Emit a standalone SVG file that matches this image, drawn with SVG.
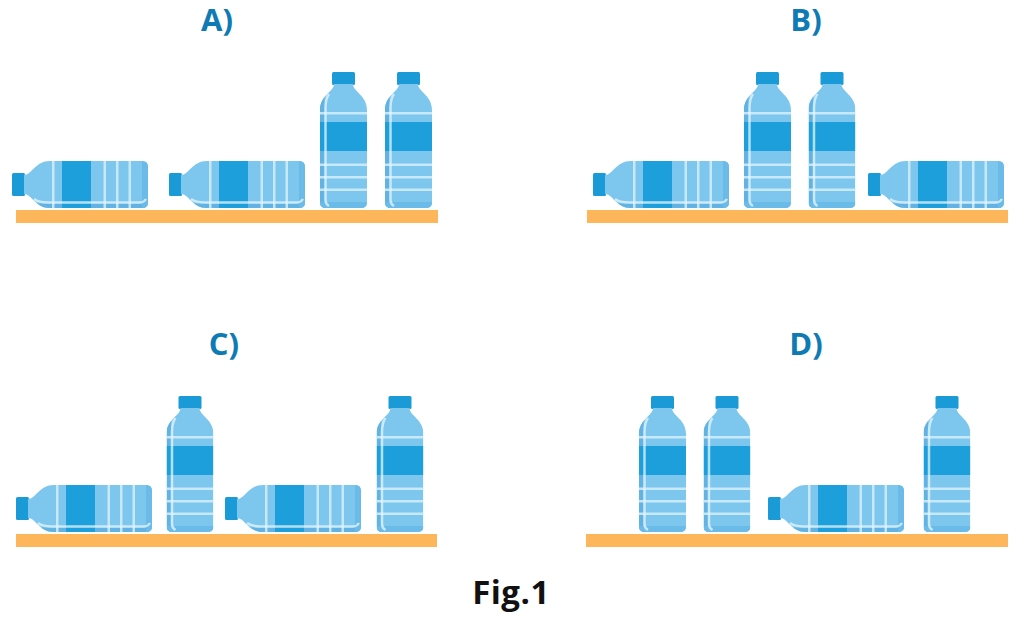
<svg xmlns="http://www.w3.org/2000/svg" xmlns:xlink="http://www.w3.org/1999/xlink" width="1024" height="631" viewBox="0 0 1024 631">
<style>
.lbl{font-family:"Open Sans","Liberation Sans",sans-serif;font-weight:700;font-size:31px;fill:#0F7BB4;text-anchor:middle}
.fig{font-family:"Open Sans","Liberation Sans",sans-serif;font-weight:700;font-size:33px;fill:#111;text-anchor:middle;letter-spacing:0.5px}
.shelf{fill:#FDB75A}
</style>
<defs>
<clipPath id="bodyClip">
<path d="M14,12 L33,12 C33,20 47,23 47,38 L47,130 Q47,136 41,136 L6,136 Q0,136 0,130 L0,38 C0,23 14,20 14,12 Z"/>
</clipPath>
<g id="bottle">
<rect x="12" y="0" width="23" height="13" rx="1.5" fill="#1A9BD7"/>
<g clip-path="url(#bodyClip)">
<rect x="0" y="10" width="47" height="126" fill="#7DC6EE"/>
<rect x="0" y="10" width="4.5" height="126" fill="#62B3E3"/>
<rect x="0" y="130" width="47" height="6" fill="#6BBBE8"/>
<rect x="0" y="50" width="47" height="29" fill="#1D9FDB"/>
<rect x="0" y="40" width="47" height="2.5" fill="#D4EEFB" opacity="0.85"/>
<rect x="0" y="91.5" width="47" height="2.5" fill="#D4EEFB" opacity="0.85"/>
<rect x="0" y="104" width="47" height="2.5" fill="#D4EEFB" opacity="0.85"/>
<rect x="0" y="116.5" width="47" height="2.5" fill="#D4EEFB" opacity="0.85"/>
<path d="M9,22 C6,26 5.5,30 5.5,36 L5.5,128 Q5.5,132 9,134" fill="none" stroke="#E6F5FD" stroke-width="2.5" opacity="0.75"/>
</g>
</g>
</defs>

<text class="lbl" x="217" y="31">A)</text>
<text class="lbl" x="806" y="31">B)</text>
<text class="lbl" x="224" y="355">C)</text>
<text class="lbl" x="806" y="355">D)</text>

<g id="shelfA"><rect class="shelf" x="16" y="210" width="422" height="13"/></g>
<g id="shelfB"><rect class="shelf" x="587" y="210" width="421" height="13"/></g>
<g id="shelfC"><rect class="shelf" x="16" y="534" width="421" height="13"/></g>
<g id="shelfD"><rect class="shelf" x="586" y="534" width="422" height="13"/></g>

<g id="bottleA1"><use xlink:href="#bottle" href="#bottle" transform="translate(12,208) rotate(-90)"/></g>
<g id="bottleA2"><use xlink:href="#bottle" href="#bottle" transform="translate(169,208) rotate(-90)"/></g>
<g id="bottleA3"><use xlink:href="#bottle" href="#bottle" transform="translate(320,72)"/></g>
<g id="bottleA4"><use xlink:href="#bottle" href="#bottle" transform="translate(385,72)"/></g>

<g id="bottleB1"><use xlink:href="#bottle" href="#bottle" transform="translate(593,208) rotate(-90)"/></g>
<g id="bottleB2"><use xlink:href="#bottle" href="#bottle" transform="translate(744,72)"/></g>
<g id="bottleB3"><use xlink:href="#bottle" href="#bottle" transform="translate(808.5,72)"/></g>
<g id="bottleB4"><use xlink:href="#bottle" href="#bottle" transform="translate(868,208) rotate(-90)"/></g>

<g id="bottleC1"><use xlink:href="#bottle" href="#bottle" transform="translate(16,532) rotate(-90)"/></g>
<g id="bottleC2"><use xlink:href="#bottle" href="#bottle" transform="translate(166.5,396)"/></g>
<g id="bottleC3"><use xlink:href="#bottle" href="#bottle" transform="translate(225,532) rotate(-90)"/></g>
<g id="bottleC4"><use xlink:href="#bottle" href="#bottle" transform="translate(376.5,396)"/></g>

<g id="bottleD1"><use xlink:href="#bottle" href="#bottle" transform="translate(639,396)"/></g>
<g id="bottleD2"><use xlink:href="#bottle" href="#bottle" transform="translate(703.5,396)"/></g>
<g id="bottleD3"><use xlink:href="#bottle" href="#bottle" transform="translate(768,532) rotate(-90)"/></g>
<g id="bottleD4"><use xlink:href="#bottle" href="#bottle" transform="translate(923.5,396)"/></g>

<text class="fig" x="511" y="604">Fig.1</text>
</svg>
